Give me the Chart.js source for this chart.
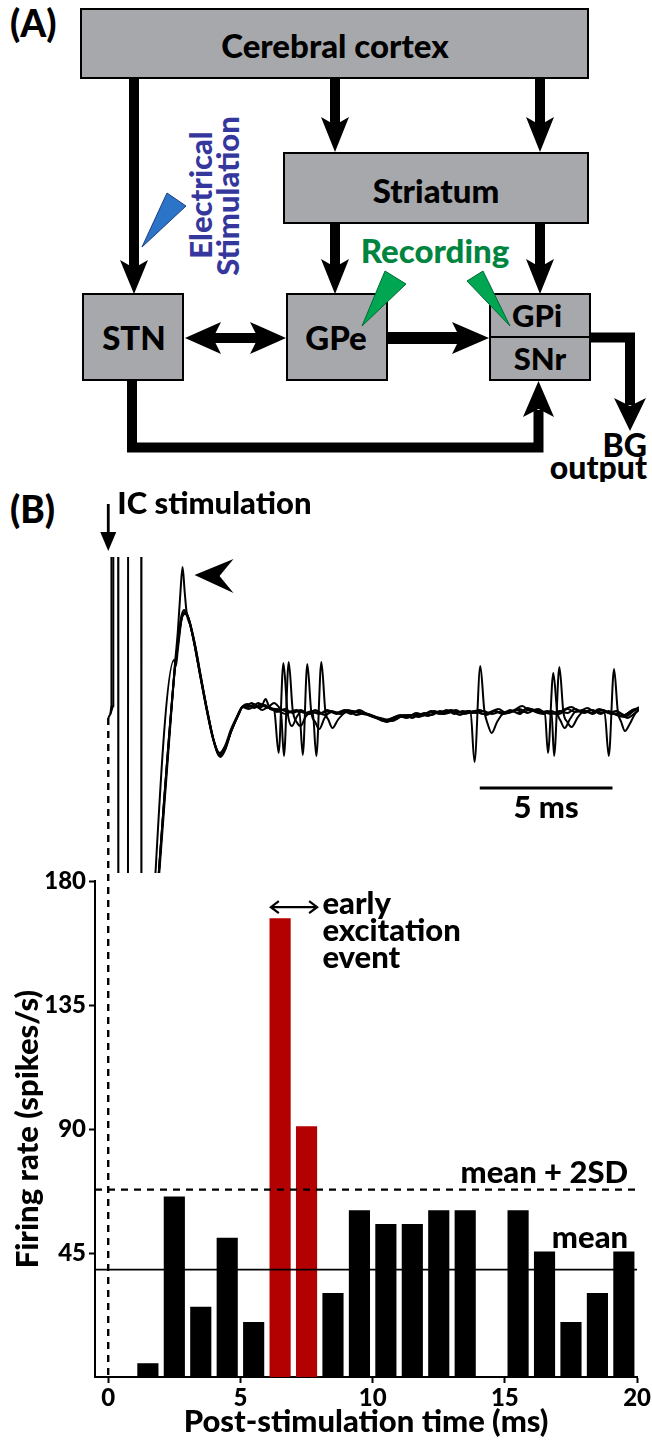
<!DOCTYPE html>
<html>
<head>
<meta charset="utf-8">
<script src="https://cdn.jsdelivr.net/npm/chart.js@4.4.1/dist/chart.umd.min.js"></script>
<style>
  html, body { margin: 0; padding: 0; background: #fff; }
  #page { position: relative; width: 652px; height: 1441px; overflow: hidden; font-family: Lato, sans-serif; }
  #page canvas, #page svg { position: absolute; left: 0; }
  #diagram { top: 0; }
  #trace { top: 480px; }
  #psth { top: 850px; }
  .lbl { position: absolute; left: 10px; font: 900 37px Lato, sans-serif; color: #000; line-height: 1; }
</style>
</head>
<body>
<div id="page">
<svg id="diagram" width="652" height="482" viewBox="0 0 652 482" font-family="Lato, sans-serif" font-weight="900">
  <g fill="#a7a8ab" stroke="#000" stroke-width="2">
    <rect x="81" y="9" width="507" height="69"/>
    <rect x="284" y="153" width="304" height="70"/>
    <rect x="83" y="294" width="100" height="86"/>
    <rect x="287" y="294" width="100" height="86"/>
    <rect x="490" y="294" width="100" height="43"/>
    <rect x="490" y="337" width="100" height="43"/>
  </g>
  <g fill="#000">
    <!-- cortex to STN -->
    <rect x="129" y="79" width="10" height="190"/>
    <polygon points="120,260 134,294 148,260 134,268"/>
    <!-- cortex to striatum -->
    <rect x="330" y="79" width="10" height="46"/>
    <polygon points="321,117 335,152 349,117 335,125"/>
    <rect x="535" y="79" width="10" height="46"/>
    <polygon points="526,117 540,152 554,117 540,125"/>
    <!-- striatum to GPe / GPi -->
    <rect x="330" y="224" width="10" height="43"/>
    <polygon points="321,259 335,294 349,259 335,267"/>
    <rect x="535" y="224" width="10" height="43"/>
    <polygon points="526,259 540,294 554,259 540,267"/>
    <!-- STN <-> GPe -->
    <rect x="210" y="333" width="52" height="10"/>
    <polygon points="185,338 221,322 213,338 221,354"/>
    <polygon points="286,338 250,322 258,338 250,354"/>
    <!-- GPe to GPi -->
    <rect x="388" y="332" width="72" height="12"/>
    <polygon points="452,322 489,338 452,354 460,338"/>
    <!-- output -->
    <polygon points="614,398 630,431 646,398 630,406"/>
    <!-- STN to SNr -->
    <polygon points="523,417 538.5,381 554,417 538.5,409"/>
  </g>
  <g fill="none" stroke="#000" stroke-width="10" stroke-linejoin="miter">
    <path d="M590,337.5 H630 V405"/>
    <path d="M132,381 V447.5 H538.5 V410"/>
  </g>
  <g font-size="33" text-anchor="middle" fill="#000">
    <text x="335" y="58">Cerebral cortex</text>
    <text x="436" y="203">Striatum</text>
    <text x="134" y="350">STN</text>
    <text x="336" y="350">GPe</text>
    <text x="537" y="327" font-size="31">GPi</text>
    <text x="540" y="370" font-size="31">SNr</text>
  </g>
  <polygon points="142,247 167,193 186,206" fill="#2b74c8" stroke="#1b3f80" stroke-width="1"/>
  <g font-size="31" text-anchor="middle" fill="#35379c">
    <text transform="translate(212,195) rotate(-90)">Electrical</text>
    <text transform="translate(239,196) rotate(-90)">Stimulation</text>
  </g>
  <text x="435" y="263" font-size="33" text-anchor="middle" fill="#00853f">Recording</text>
  <polygon points="362,326 385,271 406,284" fill="#00a651" stroke="#006b35" stroke-width="1"/>
  <polygon points="510,326 467,281 483,271" fill="#00a651" stroke="#006b35" stroke-width="1"/>
  <g font-size="32" text-anchor="end" fill="#000">
    <text x="647" y="457">BG</text>
    <text x="647" y="479">output</text>
  </g>
</svg>
<div class="lbl" style="top:4px">(A)</div>
<div class="lbl" style="top:490px">(B)</div>
<canvas id="trace" width="652" height="400"></canvas>
<canvas id="psth" width="652" height="591"></canvas>
</div>
<script>
// ---- histogram values (1 ms bins) ----
var binCenters = [0.5, 1.5, 2.5, 3.5, 4.5, 5.5, 6.5, 7.5, 8.5, 9.5, 10.5, 11.5, 12.5, 13.5, 14.5, 15.5, 16.5, 17.5, 18.5, 19.5];
var firingRate = [0, 5, 65.5, 25.5, 50.5, 20, 166.5, 91, 30.5, 60.5, 55.5, 55.5, 60.5, 60.5, 0, 60.5, 45.5, 20, 30.5, 45.5];
var excitationBins = [6.5, 7.5];
var meanRate = 39;
var meanPlus2SD = 68;
var xTicks = [0, 5, 10, 15, 20];
var yTicks = [45, 90, 135, 180];

// ---- overlaid raw traces, [time (ms), voltage (a.u.)] ----
var artifactA = [[0, -6], [0.08, -2], [0.11, 5], [0.12, 400], [0.37, 400], [0.38, -400], [0.74, -400], [0.75, 400], [1.24, 400], [1.25, -400]];
var artifactB = [[0.08, -2], [0.18, 6], [0.19, 400]];
var traceA = [[1.26, -400], [2.5, 40], [2.6, 62], [2.75, 92], [2.88, 100], [3.0, 95], [3.2, 74], [3.45, 38], [3.7, 3], [3.95, -27], [4.2, -42], [4.4, -36], [4.65, -18], [4.9, -3], [5.05, 5],
  [5.25, 8], [5.45, 5], [5.65, 9], [5.85, 6], [6.05, 4], [6.25, 2], [6.42, -41], [6.6, 49], [6.75, 1], [6.92, -14], [7.1, -5], [7.3, 1], [7.55, -2], [7.8, 2], [8.05, -1], [8.3, 1], [8.6, -2], [8.9, 2], [9.2, -1], [9.5, 1], [9.8, -3],
  [10.1, -6], [10.4, -8], [10.7, -6], [11.0, -3], [11.3, -5], [11.6, -1], [11.9, -3], [12.2, 0], [12.5, -2], [12.8, 1], [13.1, -1], [13.4, 0], [13.65, 1], [13.8, -50], [14.02, 46], [14.17, 2], [14.3, -12], [14.45, -21], [14.65, -10], [14.9, -1],
  [15.2, 1], [15.5, -2], [15.8, 4], [16.1, 0], [16.4, -2], [16.7, 1], [17.0, -2], [17.3, 3], [17.6, 0], [17.9, 2], [18.2, -1], [18.5, 3], [18.8, 0], [19.1, -2], [19.4, -4], [19.7, 1], [20, 3]];
var traceB = [[1.26, -400], [2.5, 42], [2.58, 60], [2.74, 94], [2.86, 102], [3.0, 96], [3.22, 72], [3.48, 35], [3.72, 1], [3.97, -29], [4.18, -44], [4.38, -38], [4.62, -20], [4.88, -4], [5.05, 5],
  [5.2, 6], [5.4, 9], [5.6, 5], [5.8, 7], [5.93, 13], [6.05, 6], [6.3, 3], [6.5, 2], [6.62, -44], [6.8, 50], [6.95, 2], [7.1, -10], [7.25, -14], [7.45, -4], [7.7, 0], [7.95, -2], [8.25, 2], [8.55, -1], [8.85, 1], [9.15, -2], [9.45, 2], [9.75, -2],
  [10.05, -5], [10.35, -9], [10.65, -7], [10.95, -4], [11.25, -6], [11.55, -2], [11.85, -4], [12.15, 1], [12.45, -1], [12.75, 2], [13.05, -2], [13.35, 1], [13.65, -1], [13.95, 0], [14.25, -3], [14.55, 1], [14.85, -2],
  [15.15, 2], [15.45, -1], [15.75, 3], [16.05, 1], [16.35, -1], [16.45, 0], [16.57, -41], [16.77, 39], [16.92, 0], [17.05, -9], [17.2, -16], [17.4, -7], [17.65, 1], [17.95, -1], [18.25, 2], [18.55, -2], [18.85, 1], [19.15, -3], [19.45, -5], [19.75, 0], [20, 5]];
var traceC = [[1.26, -400], [2.48, 52], [2.55, 46], [2.62, 62], [2.78, 95], [2.9, 99], [3.05, 92], [3.25, 70], [3.5, 33], [3.75, -1], [4.0, -31], [4.22, -45], [4.42, -37], [4.66, -17], [4.92, -2], [5.08, 6],
  [5.3, 5], [5.5, 8], [5.7, 4], [5.9, 7], [6.1, 3], [6.4, 1], [6.7, -2], [6.95, 1], [7.2, 0], [7.33, -43], [7.5, 48], [7.65, 0], [7.8, -10], [7.95, -17], [8.15, -6], [8.4, 1], [8.7, -1], [9.0, 2], [9.3, 0], [9.6, -2], [9.9, -4],
  [10.2, -7], [10.5, -10], [10.8, -6], [11.1, -4], [11.4, -3], [11.7, -5], [12.0, -1], [12.3, 1], [12.6, -2], [12.9, 2], [13.2, 0], [13.5, -1], [13.8, 1], [14.1, -2], [14.4, 0], [14.7, 3],
  [15.0, -1], [15.3, 2], [15.6, 6], [15.9, 1], [16.2, 3], [16.5, -1], [16.7, 1], [16.8, -44], [17.0, 45], [17.15, 0], [17.3, -10], [17.46, -15], [17.7, -5], [17.95, 1], [18.25, -2], [18.55, 2], [18.85, -1], [19.15, 1], [19.45, -3], [19.75, 2], [20, 4]];
var traceD = [[1.26, -400], [2.5, 41], [2.6, 64], [2.76, 93], [2.89, 98], [3.02, 94], [3.22, 71], [3.47, 36], [3.72, 2], [3.97, -28], [4.21, -43], [4.41, -35], [4.64, -19], [4.9, -2], [5.05, 5],
  [5.25, 7], [5.5, 4], [5.75, 8], [6.0, 5], [6.25, 9], [6.5, 3], [6.8, 0], [7.1, 2], [7.4, -1], [7.7, 1], [7.84, -44], [8.03, 50], [8.18, 1], [8.3, -8], [8.45, -16], [8.65, -8], [8.9, -1], [9.2, 1], [9.5, -1], [9.8, -2],
  [10.1, -5], [10.4, -8], [10.7, -9], [11.0, -5], [11.3, -3], [11.6, -4], [11.9, -1], [12.2, -3], [12.5, 1], [12.8, -1], [13.1, 2], [13.4, -2], [13.7, 0], [14.0, 2], [14.3, -1], [14.6, 1], [14.9, -2],
  [15.2, 0], [15.5, 3], [15.8, -1], [16.1, 2], [16.4, 0], [16.7, -2], [17.0, 1], [17.3, -1], [17.6, 3], [17.9, 0], [18.2, 2], [18.5, -1], [18.7, 0], [18.86, -44], [19.06, 43], [19.2, 1], [19.33, -10], [19.47, -19], [19.65, -12], [19.85, -2], [20, 2]];
var traceE = [[1.26, -400], [2.5, 44], [2.62, 80], [2.72, 120], [2.8, 145], [2.88, 120], [2.96, 98], [3.1, 86], [3.3, 63], [3.5, 34], [3.74, 0], [3.98, -29], [4.2, -41], [4.4, -34], [4.63, -17], [4.88, -3], [5.05, 5],
  [5.3, 3], [5.55, 6], [5.8, 2], [6.05, 5], [6.35, 0], [6.65, 3], [6.95, -1], [7.25, 2], [7.55, -2], [7.85, 0], [8.15, -3], [8.45, 0], [8.75, -2], [9.05, 1], [9.35, -3], [9.65, -1], [9.95, -4],
  [10.25, -6], [10.55, -8], [10.85, -7], [11.15, -3], [11.45, -6], [11.75, -2], [12.05, -4], [12.35, 0], [12.65, -2], [12.95, 0], [13.25, -3], [13.55, 1], [13.85, -1], [14.15, 1], [14.45, -2], [14.75, 0],
  [15.05, -1], [15.35, 2], [15.65, 0], [15.95, 3], [16.25, -1], [16.55, 1], [16.85, -2], [17.15, 2], [17.45, 5], [17.75, 1], [18.05, 4], [18.35, 0], [18.65, 2], [18.95, -2], [19.25, -1], [19.55, -6], [19.85, -1], [20, 3]];

var FONT = 'Lato, sans-serif';
var W = '900';
var TIME_MIN = -0.5, TIME_MAX = 20;

function pts(arr) {
  return arr.map(function (p) { return { x: p[0], y: p[1] }; });
}

// dashed marker of stimulus time, phase kept across the two canvases
var DASH = [7, 6];

var traceNotes = {
  id: 'traceNotes',
  afterDraw: function (chart) {
    var ctx = chart.ctx, x = chart.scales.x, y = chart.scales.y;
    var x0 = x.getPixelForValue(0);
    ctx.save();
    ctx.strokeStyle = '#000';
    ctx.fillStyle = '#000';
    // stimulus time, dashed
    ctx.lineWidth = 2.4;
    ctx.setLineDash(DASH);
    ctx.beginPath();
    ctx.moveTo(x0, y.getPixelForValue(-6));
    ctx.lineTo(x0, 381);
    ctx.stroke();
    ctx.setLineDash([]);
    // stimulation arrow
    ctx.lineWidth = 2.8;
    ctx.beginPath();
    ctx.moveTo(x0, 24);
    ctx.lineTo(x0, 58);
    ctx.stroke();
    ctx.beginPath();
    ctx.moveTo(x0 - 8, 52);
    ctx.lineTo(x0 + 8, 52);
    ctx.lineTo(x0, 71);
    ctx.closePath();
    ctx.fill();
    ctx.font = W + ' 31px ' + FONT;
    ctx.textBaseline = 'alphabetic';
    ctx.textAlign = 'left';
    ctx.fillText('IC stimulation', x0 + 9, 34);
    // arrowhead pointing at the large response
    var ax = x.getPixelForValue(3.25), ay = y.getPixelForValue(137);
    ctx.beginPath();
    ctx.moveTo(ax, ay);
    ctx.lineTo(ax + 39, ay - 16);
    ctx.lineTo(ax + 25, ay + 1);
    ctx.lineTo(ax + 39, ay + 18);
    ctx.closePath();
    ctx.fill();
    // scale bar
    var sx1 = x.getPixelForValue(14), sx2 = x.getPixelForValue(19), sy = y.getPixelForValue(-76);
    ctx.lineWidth = 3;
    ctx.beginPath();
    ctx.moveTo(sx1, sy);
    ctx.lineTo(sx2, sy);
    ctx.stroke();
    ctx.textAlign = 'center';
    ctx.fillText('5 ms', (sx1 + sx2) / 2, sy + 30);
    ctx.restore();
  }
};

function traceSet(arr, smooth) {
  return {
    data: pts(arr),
    borderColor: '#000',
    borderWidth: 2,
    pointRadius: 0,
    fill: false,
    tension: 0,
    cubicInterpolationMode: smooth ? 'monotone' : 'default'
  };
}

new Chart(document.getElementById('trace'), {
  type: 'line',
  data: {
    datasets: [
      traceSet(artifactA, false),
      traceSet(artifactB, false),
      traceSet(traceA, true),
      traceSet(traceB, true),
      traceSet(traceC, true),
      traceSet(traceD, true),
      traceSet(traceE, true)
    ]
  },
  options: {
    responsive: false,
    animation: false,
    layout: { padding: { left: 95, right: 13, top: 77, bottom: 7 } },
    plugins: { legend: { display: false }, tooltip: { enabled: false } },
    scales: {
      x: { type: 'linear', min: TIME_MIN, max: TIME_MAX, display: false },
      y: { type: 'linear', min: -161, max: 155, display: false }
    }
  },
  plugins: [traceNotes]
});

var psthNotes = {
  id: 'psthNotes',
  afterDatasetsDraw: function (chart) {
    var ctx = chart.ctx, x = chart.scales.x, y = chart.scales.y, area = chart.chartArea;
    var x0 = x.getPixelForValue(0);
    ctx.save();
    ctx.strokeStyle = '#000';
    ctx.fillStyle = '#000';
    ctx.lineWidth = 2.4;
    ctx.setLineDash(DASH);
    ctx.beginPath();
    ctx.moveTo(x0, 11);
    ctx.lineTo(x0, area.bottom);
    ctx.stroke();
    ctx.setLineDash([]);

    ctx.font = W + ' 31px ' + FONT;
    ctx.textAlign = 'right';
    ctx.textBaseline = 'alphabetic';
    ctx.fillText('mean + 2SD', area.right - 9, y.getPixelForValue(meanPlus2SD) - 7);
    ctx.fillText('mean', area.right - 9, y.getPixelForValue(meanRate) - 22);

    // double arrow over the excitation bins
    var ay = y.getPixelForValue(170.5);
    var a1 = x.getPixelForValue(6.15), a2 = x.getPixelForValue(7.9);
    ctx.lineWidth = 2.2;
    ctx.beginPath();
    ctx.moveTo(a1, ay); ctx.lineTo(a2, ay);
    ctx.moveTo(a1 + 8, ay - 6); ctx.lineTo(a1, ay); ctx.lineTo(a1 + 8, ay + 6);
    ctx.moveTo(a2 - 8, ay - 6); ctx.lineTo(a2, ay); ctx.lineTo(a2 - 8, ay + 6);
    ctx.stroke();
    ctx.textAlign = 'left';
    var tx = x.getPixelForValue(8.1);
    ctx.fillText('early', tx, ay + 7);
    ctx.fillText('excitation', tx, ay + 34);
    ctx.fillText('event', tx, ay + 61);
    ctx.restore();
  }
};

var barColors = binCenters.map(function (c) {
  return excitationBins.indexOf(c) >= 0 ? '#b30000' : '#000';
});

function level(v) {
  return [{ x: TIME_MIN, y: v }, { x: TIME_MAX, y: v }];
}

new Chart(document.getElementById('psth'), {
  type: 'bar',
  data: {
    datasets: [
      { type: 'line', data: level(meanPlus2SD), borderColor: '#000', borderWidth: 2.2, borderDash: [7, 6], pointRadius: 0, order: 1 },
      { type: 'line', data: level(meanRate), borderColor: '#000', borderWidth: 1.8, pointRadius: 0, order: 1 },
      {
        type: 'bar',
        data: binCenters.map(function (c, i) { return { x: c, y: firingRate[i] }; }),
        backgroundColor: barColors,
        borderWidth: 0,
        barPercentage: 0.8,
        categoryPercentage: 1,
        order: 2
      }
    ]
  },
  options: {
    responsive: false,
    animation: false,
    layout: { padding: { left: 0, right: 13, top: 31, bottom: 0 } },
    plugins: { legend: { display: false }, tooltip: { enabled: false } },
    scales: {
      x: {
        type: 'linear', min: TIME_MIN, max: TIME_MAX, offset: false,
        afterBuildTicks: function (s) { s.ticks = xTicks.map(function (v) { return { value: v }; }); },
        afterFit: function (s) { s.height = 64; },
        grid: { drawOnChartArea: false, drawTicks: true, tickLength: 6, tickWidth: 2, tickColor: '#000', offset: false },
        border: { display: true, color: '#000', width: 2 },
        ticks: { color: '#000', font: { family: FONT, weight: W, size: 24 }, padding: 1, maxRotation: 0, autoSkip: false },
        title: { display: true, text: 'Post-stimulation time (ms)', color: '#000', font: { family: FONT, weight: W, size: 31 }, padding: { top: 0, bottom: 0 } }
      },
      y: {
        type: 'linear', min: 0, max: 180,
        afterBuildTicks: function (s) { s.ticks = yTicks.map(function (v) { return { value: v }; }); },
        afterFit: function (s) { s.width = 95; },
        grid: { drawOnChartArea: false, drawTicks: true, tickLength: 6, tickWidth: 2, tickColor: '#000' },
        border: { display: true, color: '#000', width: 2 },
        ticks: { color: '#000', font: { family: FONT, weight: W, size: 24 }, padding: 3 },
        title: { display: true, text: 'Firing rate (spikes/s)', color: '#000', font: { family: FONT, weight: W, size: 31 }, padding: { top: 9, bottom: 0 } }
      }
    }
  },
  plugins: [psthNotes]
});
</script>
</body>
</html>
